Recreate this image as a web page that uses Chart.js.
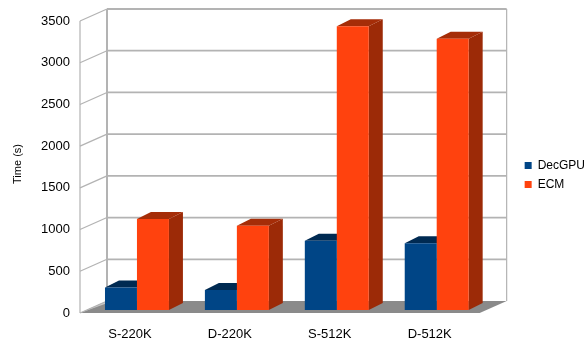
<!DOCTYPE html>
<html>
<head>
<meta charset="utf-8">
<script src="https://cdn.jsdelivr.net/npm/chart.js@4/dist/chart.umd.min.js"></script>
<style>
  html, body { margin: 0; padding: 0; background: #fff; }
  #wrap { width: 588px; height: 338px; }
</style>
</head>
<body>
<div id="wrap"><canvas id="chart"></canvas></div>
<script>
// Données
const categories = ['S-220K', 'D-220K', 'S-512K', 'D-512K'];
const decGpu = [270, 240, 830, 800];
const ecm = [1090, 1010, 3400, 3250];
const yTicks = [0, 500, 1000, 1500, 2000, 2500, 3000, 3500];

// Décalages de la perspective (px)
const FRONT = { dx: -7, dy: 3 };   // plan de l'axe avant
const BACK = { dx: 20, dy: -9 };   // mur du fond
const BAR_DEPTH = { dx: 14, dy: -7 };

const faces = [
  { side: '#00315f', top: '#002a52' },
  { side: '#9c2a07', top: '#a52d08' }
];

// Plugin pour dessiner le mur, le sol et les faces 3D des barres
const plot3d = {
  id: 'plot3d',
  afterLayout(chart) {
    // placer la légende comme sur l'original
    const lg = chart.legend;
    lg.left += 31; lg.right += 31;
    lg.top -= 3; lg.bottom -= 3;
  },
  beforeDatasetsDraw(chart) {
    const ctx = chart.ctx;
    const { left, right } = chart.chartArea;
    const y = chart.scales.y;
    const top = y.getPixelForValue(3500);
    const bottom = y.getPixelForValue(0);
    ctx.save();

    // sol
    ctx.fillStyle = '#8a8a8a';
    ctx.beginPath();
    ctx.moveTo(left + FRONT.dx, bottom + FRONT.dy);
    ctx.lineTo(right + FRONT.dx, bottom + FRONT.dy);
    ctx.lineTo(right + BACK.dx, bottom + BACK.dy);
    ctx.lineTo(left + BACK.dx, bottom + BACK.dy);
    ctx.closePath();
    ctx.fill();
    ctx.fillStyle = '#c8c8c8';
    ctx.beginPath();
    ctx.moveTo(left + FRONT.dx, bottom + FRONT.dy);
    ctx.lineTo(left + BACK.dx, bottom + BACK.dy);
    ctx.lineTo(left + BACK.dx + 6, bottom + BACK.dy);
    ctx.closePath();
    ctx.fill();

    // lignes de grille du mur du fond + diagonales
    ctx.strokeStyle = '#b3b3b3';
    yTicks.forEach(v => {
      const py = y.getPixelForValue(v);
      if (v > 0) {
        ctx.lineWidth = 1.8;
        ctx.beginPath();
        ctx.moveTo(left + BACK.dx, py + BACK.dy);
        ctx.lineTo(right + BACK.dx, py + BACK.dy);
        ctx.stroke();
      }
      ctx.lineWidth = 1.2;
      ctx.beginPath();
      ctx.moveTo(left + FRONT.dx, py + FRONT.dy);
      ctx.lineTo(left + BACK.dx, py + BACK.dy);
      ctx.stroke();
    });

    // bords verticaux
    ctx.lineWidth = 2;
    ctx.beginPath();
    ctx.moveTo(left + BACK.dx, top + BACK.dy);
    ctx.lineTo(left + BACK.dx, bottom + BACK.dy);
    ctx.stroke();
    ctx.lineWidth = 1.2;
    ctx.beginPath();
    ctx.moveTo(right + BACK.dx, top + BACK.dy);
    ctx.lineTo(right + BACK.dx, bottom + BACK.dy);
    ctx.moveTo(left + FRONT.dx, top + FRONT.dy);
    ctx.lineTo(left + FRONT.dx, bottom + FRONT.dy);
    ctx.stroke();

    // faces latérales et dessus des barres
    chart.data.datasets.forEach((ds, i) => {
      const meta = chart.getDatasetMeta(i);
      meta.data.forEach(bar => {
        const p = bar.getProps(['x', 'y', 'base', 'width'], true);
        const l = p.x - p.width / 2;
        const r = p.x + p.width / 2;
        ctx.fillStyle = faces[i].side;
        ctx.beginPath();
        ctx.moveTo(r, p.y);
        ctx.lineTo(r + BAR_DEPTH.dx, p.y + BAR_DEPTH.dy);
        ctx.lineTo(r + BAR_DEPTH.dx, p.base + BAR_DEPTH.dy);
        ctx.lineTo(r, p.base);
        ctx.closePath();
        ctx.fill();
        ctx.fillStyle = faces[i].top;
        ctx.beginPath();
        ctx.moveTo(l, p.y);
        ctx.lineTo(l + BAR_DEPTH.dx, p.y + BAR_DEPTH.dy);
        ctx.lineTo(r + BAR_DEPTH.dx, p.y + BAR_DEPTH.dy);
        ctx.lineTo(r, p.y);
        ctx.closePath();
        ctx.fill();
      });
    });
    ctx.restore();
  }
};

const font = { family: '"Liberation Sans", Arial, sans-serif', size: 13 };

new Chart(document.getElementById('chart'), {
  type: 'bar',
  data: {
    labels: categories,
    datasets: [
      { label: 'DecGPU', data: decGpu, backgroundColor: '#004586' },
      { label: 'ECM', data: ecm, backgroundColor: '#ff420e' }
    ]
  },
  options: {
    responsive: true,
    maintainAspectRatio: false,
    animation: false,
    categoryPercentage: 0.64,
    barPercentage: 1.0,
    layout: { padding: { top: 18, right: 24, left: 0, bottom: 0 } },
    plugins: {
      legend: {
        position: 'right',
        labels: {
          font: { family: font.family, size: 12 },
          color: '#000',
          boxWidth: 7,
          boxHeight: 7,
          padding: 7
        }
      },
      tooltip: { enabled: false }
    },
    scales: {
      x: {
        grid: { display: false, drawTicks: false },
        border: { display: false },
        ticks: { font: font, color: '#000', labelOffset: FRONT.dx, padding: 17 },
        afterFit(scale) { scale.height = 28; scale.paddingLeft = 0; scale.paddingRight = 0; }
      },
      y: {
        min: 0,
        max: 3500,
        grid: { display: false, drawTicks: false },
        border: { display: false },
        ticks: {
          stepSize: 500, font: font, color: '#000', labelOffset: FRONT.dy, padding: 17,
          callback: v => String(v)
        },
        title: {
          display: true,
          text: 'Time (s)',
          font: { family: font.family, size: 11 },
          color: '#000',
          padding: { top: 11, bottom: 0 }
        },
        afterFit(scale) { scale.width = 87; scale.paddingTop = 0; scale.paddingBottom = 0; }
      }
    }
  },
  plugins: [plot3d]
});
</script>
</body>
</html>
